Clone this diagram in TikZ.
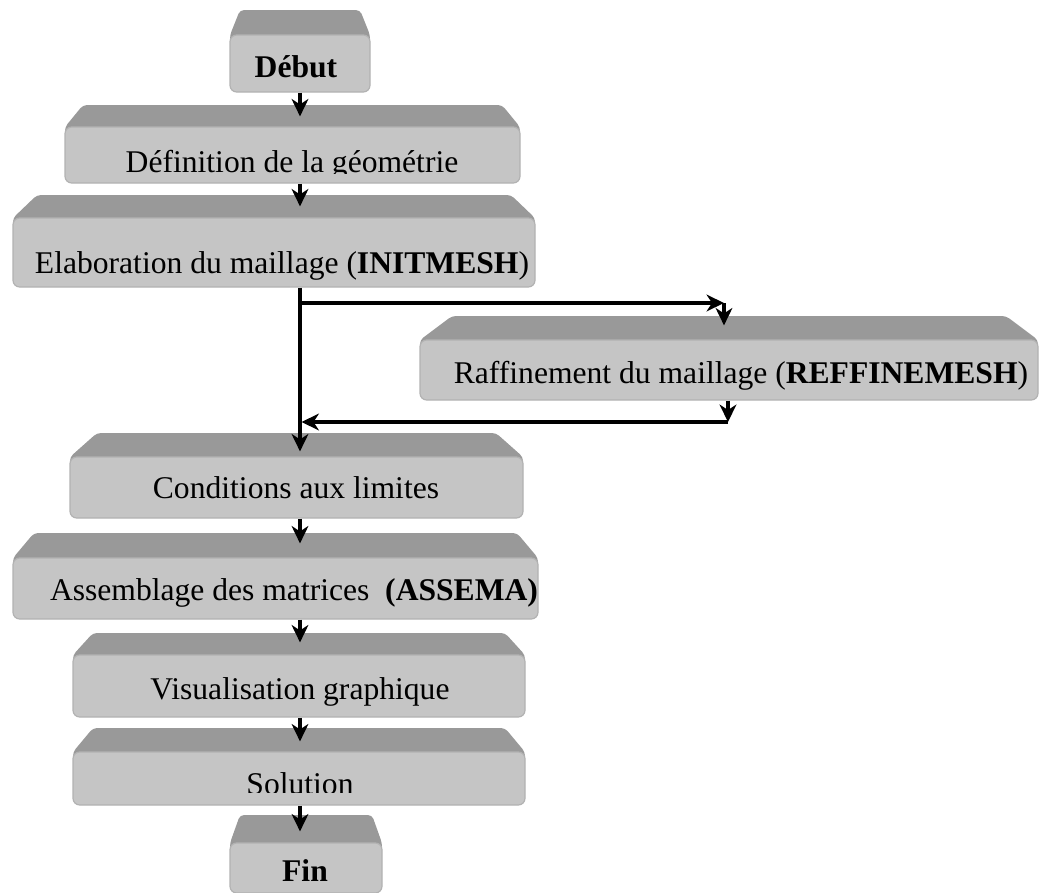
\documentclass[tikz,border=0pt]{standalone}
\usepackage{fontspec}
\setmainfont{Liberation Serif}
\usetikzlibrary{arrows.meta,calc,fit}
\definecolor{topgray}{RGB}{153,153,153}
\definecolor{frontgray}{RGB}{197,197,197}
\definecolor{edgegray}{RGB}{178,178,178}
\tikzset{
  front/.style={draw=edgegray, line width=0.9pt, fill=frontgray, rounded corners=5pt, inner sep=0pt},
  lbl/.style={anchor=base, inner sep=0pt, font=\fontsize{23.7}{28}\selectfont},
  conn/.style={line width=2.3pt, -{Stealth[length=13pt,width=12.5pt,inset=4pt]}},
  plainline/.style={line width=2.3pt},
}
% name, x1, x2, front top, front bottom, face top, inset
\newcommand\flowbox[7]{%
  \fill[topgray, rounded corners=3pt] (#2,-#4-8) -- (#2,-#4) -- (#2+#7,-#6) -- (#3-#7,-#6) -- (#3,-#4) -- (#3,-#4-8) -- cycle;
  \node[front, fit={(#2,-#4) (#3,-#5)}] (#1) {};
}
\begin{document}
\begin{tikzpicture}[x=0.75pt,y=0.75pt]
\useasboundingbox (0,0) rectangle (1047,-893);

\flowbox{debut}{230}{370}{35}{92}{10}{10}
\flowbox{def}{65}{520}{127}{183}{105}{18}
\flowbox{elab}{13}{535}{218}{287}{195}{24}
\flowbox{raff}{420}{1038}{340}{400}{316}{32}
\flowbox{cond}{70}{523}{457}{518}{433}{27}
\flowbox{asm}{13}{538}{558}{619}{533}{21}
\flowbox{vis}{73}{525}{655}{717}{633}{20}
\flowbox{sol}{73}{525}{752}{805}{728}{20}
\flowbox{fin}{230}{382}{843}{893}{815}{10}

% texts
\node[lbl] (debut-t) at (296,-77) {\textbf{Début}};
\begin{scope}
  \clip (def.north west) rectangle (520,-173);
  \node[lbl] (def-t) at (292,-172) {Définition de la géométrie};
\end{scope}
\node[lbl] (elab-t) at (282,-273) {Elaboration du maillage (\textbf{INITMESH})};
\node[lbl] (raff-t) at (741,-383) {Raffinement du maillage (\textbf{REFFINEMESH})};
\node[lbl] (cond-t) at (296,-498) {Conditions aux limites};
\node[lbl] (asm-t) at (294,-600) {Assemblage des matrices\ \ \textbf{(ASSEMA)}};
\node[lbl] (vis-t) at (300,-699) {Visualisation graphique};
\begin{scope}
  \clip (sol.north west) rectangle (525,-792);
  \node[lbl] (sol-t) at (300,-794) {Solution};
\end{scope}
\node[lbl] (fin-t) at (305,-881) {\textbf{Fin}};

% connectors
\coordinate (spine) at (300,0);
\coordinate (b1) at (300,-303);
\coordinate (b2) at (724,-303);
\coordinate (r1) at (728,-422);

\draw[conn] (debut.south -| spine) -- ($(def.north -| spine)+(0,10)$);
\draw[conn] (def.south -| spine) -- ($(elab.north -| spine)+(0,11)$);
\draw[conn] (elab.south -| spine) -- ($(cond.north -| spine)+(0,5)$);
\draw[conn] (b1) -- (b2);
\draw[conn] (b2) -- ($(raff.north -| b2)+(0,14)$);
\draw[conn] (raff.south -| r1) -- (r1);
\draw[conn] (r1) -- ($(r1 -| spine)+(1.5,0)$);
\draw[conn] (cond.south -| spine) -- ($(asm.north -| spine)+(0,14)$);
\draw[conn] (asm.south -| spine) -- ($(vis.north -| spine)+(0,12)$);
\draw[conn] (vis.south -| spine) -- ($(sol.north -| spine)+(0,10)$);
\draw[conn] (sol.south -| spine) -- ($(fin.north -| spine)+(0,11)$);
\end{tikzpicture}
\end{document}
